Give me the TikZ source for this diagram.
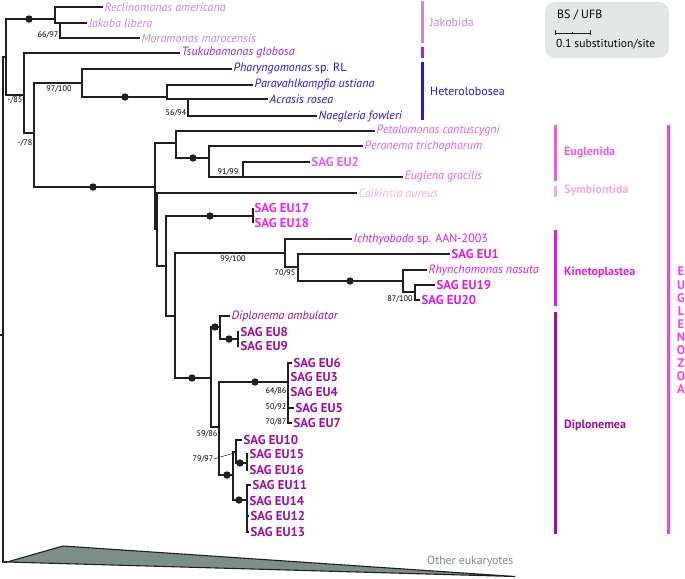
\documentclass[tikz,border=0pt]{standalone}
\usepackage{fontspec}
\setmainfont{PT Sans}
\usepackage{xcolor}
\usepackage{tikz}
\usetikzlibrary{positioning,calc}
\definecolor{treecol}{HTML}{231F20}
\definecolor{jakcol}{HTML}{C685E0}
\definecolor{tsucol}{HTML}{A224E0}
\definecolor{hetcol}{HTML}{2B14E0}
\definecolor{eugcol}{HTML}{F05CEA}
\definecolor{symcol}{HTML}{F5A8F2}
\definecolor{sagcol}{HTML}{F524EA}
\definecolor{kincol}{HTML}{E01CE0}
\definecolor{dipcol}{HTML}{9E0EA0}
\definecolor{ezcol}{HTML}{FF3DE8}
\definecolor{othcol}{HTML}{7B8F8A}
\definecolor{othtext}{HTML}{7B8A88}
\definecolor{boxbg}{HTML}{E3E8E7}

\begin{document}
\begin{tikzpicture}[x=1pt, y=-1pt,
  branch/.style={line width=1.1pt, draw=treecol},
  taxon/.style={anchor=west, inner sep=1.5pt, font=\fontsize{12}{13}\selectfont\itshape},
  sag/.style={anchor=west, inner sep=1.5pt, font=\fontsize{12.8}{13}\selectfont\bfseries},
  bsval/.style={inner sep=0pt, font=\fontsize{8.2}{9}\selectfont},
  grpbar/.style={line width=3pt},
  grplabel/.style={anchor=west, inner sep=0pt, font=\fontsize{12}{13}\selectfont},
  supdot/.style={fill=treecol}]
  \useasboundingbox (0,0) rectangle (685,578);

  % Root, basal nodes and the collapsed outgroup
  \coordinate (stem) at (0,335);
  \coordinate (root) at (3,335);
  \coordinate (apex) at (7,562);
  \coordinate (nA) at (6,57);
  \coordinate (nB) at (24,95);
  \coordinate (nC) at (34,133);
  \draw[branch] (stem) -- (root);
  \draw[branch] (root) |- (nA);
  \draw[branch] (root) |- (apex);
  \draw[branch, fill=othcol] (apex) -- (63,546) -- (515,576.5) -- cycle;
  \node[anchor=west, inner sep=0pt, text=othtext, font=\fontsize{11.8}{13}\selectfont] (other) at (427,562) {Other eukaryotes};

  % Jakobida
  \coordinate (nJak) at (55,19);
  \coordinate (nJM) at (60,23);
  \node[taxon, text=jakcol] (recl) at (103,7) {Reclinomonas americana};
  \node[taxon, text=jakcol] (jako) at (87,23) {Jakoba libera};
  \node[taxon, text=jakcol] (mora) at (140,38) {Moramonas marocensis};
  \draw[branch] (nA) |- (nJak);
  \draw[branch] (nJak) |- (recl.west);
  \draw[branch] (nJak) |- (nJM);
  \draw[branch] (nJM) |- (jako.west);
  \draw[branch] (nJM) |- (mora.west);
  \node[bsval] (bsJM) at (48,35) {66/97};
  \node[bsval] (bsA) at (15,100) {-/85};

  % Tsukubamonas
  \node[taxon, text=tsucol] (tsuk) at (180,53) {Tsukubamonas globosa};
  \draw[branch] (nA) |- (nB);
  \draw[branch] (nB) |- (tsuk.west);
  \draw[branch] (nB) |- (nC);
  \node[bsval] (bsB) at (25,143) {-/78};

  % Heterolobosea
  \coordinate (nHet) at (82,83);
  \coordinate (nHet2) at (167,97);
  \coordinate (nAN) at (188,99);
  \node[taxon, text=hetcol] (phar) at (232,69) {Pharyngomonas \textup{sp. RL}};
  \node[taxon, text=hetcol] (para) at (253,85) {Paravahlkampfia ustiana};
  \node[taxon, text=hetcol] (acra) at (268,99) {Acrasis rosea};
  \node[taxon, text=hetcol] (naeg) at (317,116) {Naegleria fowleri};
  \draw[branch] (nC) |- (nHet);
  \draw[branch] (nHet) |- (phar.west);
  \draw[branch] (nHet) |- (nHet2);
  \draw[branch] (nHet2) |- (para.west);
  \draw[branch] (nHet2) |- (nAN);
  \draw[branch] (nAN) |- (acra.west);
  \draw[branch] (nAN) |- (naeg.west);
  \node[bsval] (bsHet) at (59,89) {97/100};
  \node[bsval] (bsAN) at (176,113) {56/94};

  % Euglenida and Symbiontida
  \coordinate (nEZ) at (155,187);
  \coordinate (nEug) at (176,143);
  \coordinate (nPE) at (209,158);
  \coordinate (nEG) at (243,177);
  \coordinate (nE2) at (157,229);
  \node[taxon, text=eugcol] (peta) at (375,131) {Petalomonas cantuscygni};
  \node[taxon, text=eugcol] (pera) at (363,146) {Peranema trichophorum};
  \node[sag, text=eugcol] (eu2) at (310,162) {SAG EU2};
  \node[taxon, text=eugcol] (eugr) at (403,177) {Euglena gracilis};
  \node[taxon, text=symcol] (calk) at (357,193) {Calkinsia aureus};
  \draw[branch] (nC) |- (nEZ);
  \draw[branch] (nEZ) |- (nEug);
  \draw[branch] (nEug) |- (peta.west);
  \draw[branch] (nEug) |- (nPE);
  \draw[branch] (nPE) |- (pera.west);
  \draw[branch] (nPE) |- (nEG);
  \draw[branch] (nEG) |- (eu2.west);
  \draw[branch] (nEG) |- (eugr.west);
  \draw[branch] (nEZ) |- (nE2);
  \draw[branch] (nE2) |- (calk.west);
  \node[bsval] (bsEG) at (228,172) {91/99};

  % SAG EU17 / EU18
  \coordinate (nE3) at (166,266);
  \coordinate (n1718) at (253,216);
  \node[sag, text=sagcol] (eu17) at (253,208) {SAG EU17};
  \node[sag, text=sagcol] (eu18) at (253,223) {SAG EU18};
  \draw[branch] (nE2) |- (nE3);
  \draw[branch] (nE3) |- (n1718);
  \draw[branch] (n1718) |- (eu17.west);
  \draw[branch] (n1718) |- (eu18.west);

  % Kinetoplastea
  \coordinate (nE4) at (175,316);
  \coordinate (nKin) at (285,253);
  \coordinate (nK2) at (298,267);
  \coordinate (nK3) at (403,281);
  \coordinate (nK4) at (415,292);
  \node[taxon, text=kincol] (icht) at (352,239) {Ichthyobodo \textup{sp. AAN-2003}};
  \node[sag, text=kincol] (eu1) at (450,254) {SAG EU1};
  \node[taxon, text=kincol] (rhyn) at (427,270) {Rhynchomonas nasuta};
  \node[sag, text=kincol] (eu19) at (435,285) {SAG EU19};
  \node[sag, text=kincol] (eu20) at (420,300) {SAG EU20};
  \draw[branch] (nE3) |- (nE4);
  \draw[branch] (nE4) |- (nKin);
  \draw[branch] (nKin) |- (icht.west);
  \draw[branch] (nKin) |- (nK2);
  \draw[branch] (nK2) |- (eu1.west);
  \draw[branch] (nK2) |- (nK3);
  \draw[branch] (nK3) |- (rhyn.west);
  \draw[branch] (nK3) |- (nK4);
  \draw[branch] (nK4) |- (eu19.west);
  \draw[branch] (nK4) |- (eu20.west);
  \node[bsval] (bsKin) at (233,259) {99/100};
  \node[bsval] (bsK2) at (285,273) {70/95};
  \node[bsval] (bsK4) at (400,299) {87/100};

  % Diplonemea
  \coordinate (nDip) at (211,378);
  \coordinate (nDA) at (220,327);
  \coordinate (nD89) at (238,339);
  \coordinate (nDB) at (219,427);
  \coordinate (nD6) at (288,382);
  \coordinate (nDC) at (233,475);
  \coordinate (nD10) at (236,452);
  \coordinate (nD15) at (247,463);
  \coordinate (nD11) at (247,500);
  \node[taxon, text=dipcol] (dipa) at (230,316) {Diplonema ambulator};
  \node[sag, text=dipcol] (eu8) at (239,332) {SAG EU8};
  \node[sag, text=dipcol] (eu9) at (239,346) {SAG EU9};
  \node[sag, text=dipcol] (eu6) at (292,363) {SAG EU6};
  \node[sag, text=dipcol] (eu3) at (289,377) {SAG EU3};
  \node[sag, text=dipcol] (eu4) at (289,392) {SAG EU4};
  \node[sag, text=dipcol] (eu5) at (294,408) {SAG EU5};
  \node[sag, text=dipcol] (eu7) at (292,423) {SAG EU7};
  \node[sag, text=dipcol] (eu10) at (242,440) {SAG EU10};
  \node[sag, text=dipcol] (eu15) at (248,454) {SAG EU15};
  \node[sag, text=dipcol] (eu16) at (248,470) {SAG EU16};
  \node[sag, text=dipcol] (eu11) at (251,485) {SAG EU11};
  \node[sag, text=dipcol] (eu14) at (248,501) {SAG EU14};
  \node[sag, text=dipcol] (eu12) at (249,516) {SAG EU12};
  \node[sag, text=dipcol] (eu13) at (249,532) {SAG EU13};
  \draw[branch] (nE4) |- (nDip);
  \draw[branch] (nDip) |- (nDA);
  \draw[branch] (nDA) |- (dipa.west);
  \draw[branch] (nDA) |- (nD89);
  \draw[branch] (nD89) |- (eu8.west);
  \draw[branch] (nD89) |- (eu9.west);
  \draw[branch] (nDip) |- (nDB);
  \draw[branch] (nDB) |- (nD6);
  \draw[branch] (nD6) |- (eu6.west);
  \draw[branch] (nD6) |- (eu3.west);
  \draw[branch] (nD6) |- (eu4.west);
  \draw[branch] (nD6) |- (eu5.west);
  \draw[branch] (nD6) |- (eu7.west);
  \draw[branch] (nDB) |- (nDC);
  \draw[branch] (nDC) |- (nD10);
  \draw[branch] (nD10) |- (eu10.west);
  \draw[branch] (nD10) |- (nD15);
  \draw[branch] (nD15) |- (eu15.west);
  \draw[branch] (nD15) |- (eu16.west);
  \draw[branch] (nDC) |- (nD11);
  \draw[branch] (nD11) |- (eu11.west);
  \draw[branch] (nD11) |- (eu14.west);
  \draw[branch] (nD11) |- (eu12.west);
  \draw[branch] (nD11) |- (eu13.west);
  \node[bsval] (bsD4) at (276,391) {64/86};
  \node[bsval] (bsD5) at (276,407) {50/92};
  \node[bsval] (bsD7) at (276,422) {70/87};
  \node[bsval] (bsDB) at (207,434) {59/86};
  \node[bsval] (bsD10) at (203,459) {79/97};
  \draw[treecol, line width=0.5pt] (bsD10.east) -- (234,453);

  % Full support dots
  \fill[supdot] (29,19) circle (3.7pt);
  \fill[supdot] (125,97) circle (3.7pt);
  \fill[supdot] (93,187) circle (3.7pt);
  \fill[supdot] (193,158) circle (3.7pt);
  \fill[supdot] (210,216) circle (3.7pt);
  \fill[supdot] (350,281) circle (3.7pt);
  \fill[supdot] (192,378) circle (3.7pt);
  \fill[supdot] (215,327) circle (3.7pt);
  \fill[supdot] (229,339) circle (3.7pt);
  \fill[supdot] (255,382) circle (3.7pt);
  \fill[supdot] (227,475) circle (3.7pt);
  \fill[supdot] (240,463) circle (3.7pt);
  \fill[supdot] (239,500) circle (3.7pt);

  % Group bars and names
  \draw[grpbar, jakcol] (422,1) -- (422,43);
  \node[grplabel, text=jakcol] (jaklab) at (430,22) {Jakobida};
  \draw[grpbar, tsucol] (422,47) -- (422,58);
  \draw[grpbar, hetcol] (422,62) -- (422,120);
  \node[grplabel, text=hetcol] (hetlab) at (430,91) {Heterolobosea};
  \draw[grpbar, eugcol] (555,125) -- (555,181);
  \node[grplabel, text=eugcol, font=\fontsize{12}{13}\selectfont\bfseries] (euglab) at (564,153) {Euglenida};
  \draw[grpbar, symcol] (555,186) -- (555,197);
  \node[grplabel, text=symcol, font=\fontsize{12}{13}\selectfont\bfseries] (symlab) at (564,190) {Symbiontida};
  \draw[grpbar, kincol] (555,230) -- (555,306);
  \node[grplabel, text=kincol, font=\fontsize{12}{13}\selectfont\bfseries] (kinlab) at (564,272) {Kinetoplastea};
  \draw[grpbar, dipcol] (555,312) -- (555,534);
  \node[grplabel, text=dipcol, font=\fontsize{12}{13}\selectfont\bfseries] (diplab) at (564,425) {Diplonemea};
  \draw[grpbar, ezcol] (668,125) -- (668,534);
  \node[inner sep=0pt, align=center, text=ezcol, font=\fontsize{12.5}{13.1}\selectfont\bfseries] (ezlab) at (681,330.5) {E\\U\\G\\L\\E\\N\\O\\Z\\O\\A};

  % Legend
  \fill[boxbg, rounded corners=10pt] (545,2) rectangle (669,58);
  \node[grplabel, font=\fontsize{12}{13}\selectfont] (bslab) at (557,15) {BS / UFB};
  \draw[treecol, line width=0.6pt] (555,30.5) -- (555,35.5) (555,33) -- (590,33) (590,30.5) -- (590,35.5) (572.5,32) -- (572.5,34);
  \node[grplabel, font=\fontsize{11.6}{13}\selectfont] (scalelab) at (556,44) {0.1 substitution/site};
\end{tikzpicture}
\end{document}
